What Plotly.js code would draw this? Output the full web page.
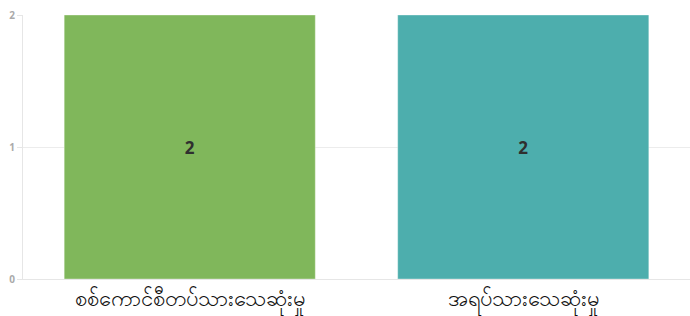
<!DOCTYPE html>
<html><head><meta charset="utf-8">
<script src="https://cdn.plot.ly/plotly-3.0.1.min.js"></script>
<style>html,body{margin:0;padding:0;background:#fff}</style>
</head><body><div id="chart" style="width:690px;height:316px"></div>
<script>
const categories = ["စစ်ကောင်စီတပ်သားသေဆုံးမှု", "အရပ်သားသေဆုံးမှု"];
const values = [2, 2];
const barColors = ["#80b75b", "#4daead"];
const yTicks = [0, 1, 2];

Plotly.newPlot("chart", [{
  type: "bar",
  x: categories,
  y: values,
  text: values.map(String),
  textposition: "inside",
  insidetextanchor: "middle",
  textfont: {family: "Open Sans", size: 17, color: "#2f2f2f", weight: 700},
  marker: {color: barColors, line: {color: "rgba(255,255,255,0.35)", width: 1}},
  hoverinfo: "none"
}], {
  width: 690, height: 316,
  margin: {l: 23, r: 0, t: 15, b: 37},
  paper_bgcolor: "#fff", plot_bgcolor: "#fff",
  bargap: 0.247,
  showlegend: false,
  xaxis: {
    tickfont: {size: 22, color: "#111"},
    showline: true, linecolor: "#e6e6e6", linewidth: 1,
    showgrid: false, ticks: "", ticklabelstandoff: 0
  },
  yaxis: {
    range: [0, 2], tickvals: yTicks,
    tickfont: {family: "Open Sans", size: 10, color: "#aaaaaa", weight: 700},
    showgrid: true, gridcolor: "#ececec", gridwidth: 1,
    showline: true, linecolor: "#e6e6e6", linewidth: 1,
    ticks: "outside", ticklen: 5, tickcolor: "#e6e6e6",
    zeroline: false, fixedrange: true
  }
}, {displayModeBar: false, staticPlot: true});
</script></body></html>
